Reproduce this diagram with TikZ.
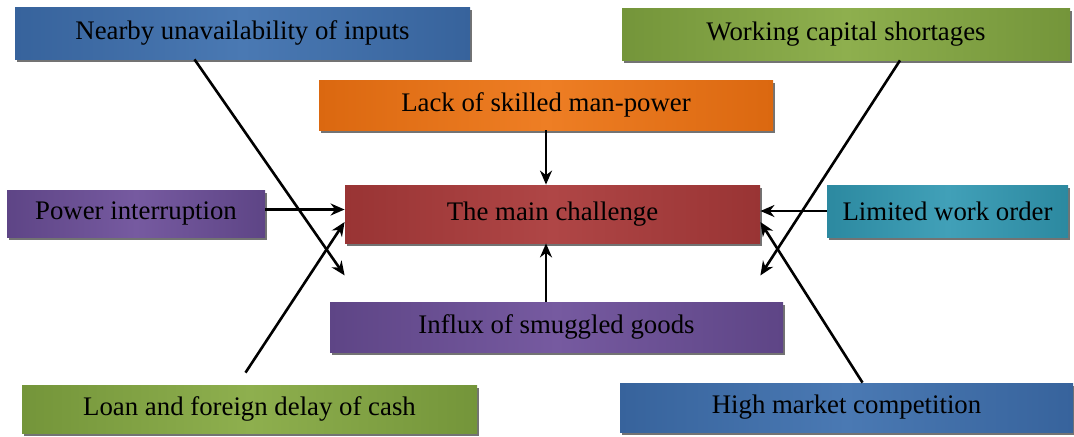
\documentclass[tikz,border=0pt]{standalone}
\usepackage{fontspec}
\setmainfont{Liberation Serif}
\usepackage{tikz}
\usetikzlibrary{positioning, shadows, arrows.meta}

\definecolor{blue_d}{HTML}{37639C}
\definecolor{blue_l}{HTML}{4A79B3}
\definecolor{green_d}{HTML}{74953A}
\definecolor{green_l}{HTML}{8EAF4E}
\definecolor{orange_d}{HTML}{DB6810}
\definecolor{orange_l}{HTML}{EE7E24}
\definecolor{red_d}{HTML}{993434}
\definecolor{red_l}{HTML}{AF4646}
\definecolor{purple_d}{HTML}{5E4586}
\definecolor{purple_l}{HTML}{765AA0}
\definecolor{teal_d}{HTML}{2C89A0}
\definecolor{teal_l}{HTML}{41A0B8}

\begin{document}
\begin{tikzpicture}[x=0.5pt, y=-0.5pt,
    box/.style={rectangle, inner sep=0pt, font=\fontsize{13.4}{15}\selectfont,
        drop shadow={shadow xshift=1pt, shadow yshift=-1.5pt, fill=black, opacity=0.55}},
    shade_box/.style 2 args={box, left color=#1, right color=#1, middle color=#2},
    arr/.style={-{Stealth[length=7pt, width=6pt]}, line width=1.3pt}]
    \useasboundingbox (0,0) rectangle (1074,436);

    \node[shade_box={blue_d}{blue_l}, minimum width=227.5pt, minimum height=26pt] (nearby) at (242.5,33) {Nearby unavailability of inputs};
    \node[shade_box={green_d}{green_l}, minimum width=224pt, minimum height=26pt] (working) at (846,34) {Working capital shortages};
    \node[shade_box={orange_d}{orange_l}, minimum width=227pt, minimum height=25pt] (lack) at (546,105) {Lack of skilled man-power};
    \node[shade_box={red_d}{red_l}, minimum width=207.5pt, minimum height=29pt] (main) at (552.5,214) {The main challenge};
    \node[shade_box={purple_d}{purple_l}, minimum width=226.5pt, minimum height=25pt] (influx) at (556.5,327) {Influx of smuggled goods};
    \node[shade_box={purple_d}{purple_l}, minimum width=129pt, minimum height=23.5pt] (power) at (136,213.5) {Power interruption};
    \node[shade_box={teal_d}{teal_l}, minimum width=120.5pt, minimum height=26pt] (limited) at (947.5,211) {Limited work order};
    \node[shade_box={green_d}{green_l}, minimum width=227.5pt, minimum height=24pt] (loan) at (249.5,409) {Loan and foreign delay of cash};
    \node[shade_box={blue_d}{blue_l}, minimum width=226.5pt, minimum height=24.5pt] (high) at (846.5,407.5) {High market competition};

    % dot
    \coordinate [below=16pt of main.south west] (dot_1);
    \coordinate [below=16pt of main.south east] (dot_2);

    \draw[arr] (lack) -- (lack |- main.north);
    \draw[arr] (lack |- influx.north) -- (lack |- main.south);
    \draw[arr] ([yshift=2pt]power.east) -- ([yshift=2pt]power.east -| main.west);
    \draw[arr] (limited.west) -- (limited.west -| main.east);

    \draw[arr] ([xshift=-24pt]nearby.south) -- (dot_1);
    \draw[arr] ([xshift=27pt]working.south) -- (dot_2);
    \draw[arr] ([xshift=-2pt, yshift=6pt]loan.north) -- ([yshift=-4pt]main.west);
    \draw[arr] ([xshift=8pt]high.north) -- ([yshift=-4pt]main.east);
\end{tikzpicture}
\end{document}
